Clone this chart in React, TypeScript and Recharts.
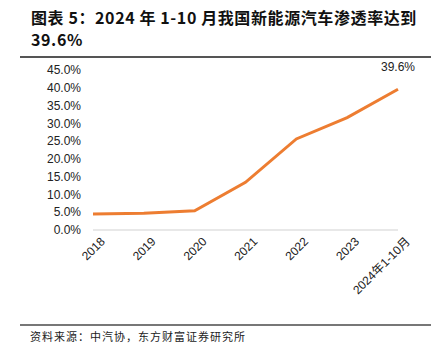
import { LineChart, Line, XAxis, YAxis, CartesianGrid, LabelList } from 'recharts';

const categories = ['2018', '2019', '2020', '2021', '2022', '2023', '2024年1-10月'];
const penetration = [4.5, 4.7, 5.4, 13.4, 25.6, 31.6, 39.6];
const yTicks = [0, 5, 10, 15, 20, 25, 30, 35, 40, 45];

const data = categories.map((name, i) => ({ name, value: penetration[i] }));

const XTick = ({ x, y, payload }: any) => (
  <g transform={`translate(${x},${y})`}>
    <text
      x={0}
      y={0}
      dx={6}
      dy={12}
      textAnchor="end"
      transform="rotate(-45)"
      fontSize={12}
      fill="#222"
      fontFamily="Arial, 'Liberation Sans', 'Noto Sans CJK SC', sans-serif"
    >
      {payload.value}
    </text>
  </g>
);

const LastLabel = ({ x, y, index, value }: any) => {
  if (index !== penetration.length - 1) return null;
  return (
    <text x={x} y={y - 18} textAnchor="middle" fontSize={12} fill="#222" fontFamily="Arial, 'Liberation Sans', sans-serif">
      {value.toFixed(1)}%
    </text>
  );
};

export default function App() {
  return (
    <div style={{ position: 'absolute', left: 0, top: 0, width: 445, height: 358, background: '#fff' }}>
      <div
        style={{
          position: 'absolute',
          left: 31,
          top: 6,
          width: 410,
          fontSize: 16,
          fontWeight: 'bold',
          lineHeight: '22px',
          letterSpacing: '0.6px',
          color: '#111',
          fontFamily: "'Noto Sans CJK SC', sans-serif",
        }}
      >
        图表 5：2024 年 1-10 月我国新能源汽车渗透率达到
        <br />
        39.6%
      </div>
      <div style={{ position: 'absolute', left: 20, top: 56, width: 411, height: 2, background: '#555' }} />
      <div style={{ position: 'absolute', left: 0, top: 60 }}>
        <LineChart width={445} height={260} data={data} margin={{ top: 10, right: 47, bottom: 0, left: 0 }}>
          <CartesianGrid horizontal={false} vertical={false} />
          <XAxis
            dataKey="name"
            interval={0}
            height={90}
            axisLine={{ stroke: '#e0e0e0', strokeWidth: 1.5 }}
            tickLine={false}
            tick={<XTick />}
          />
          <YAxis
            width={93}
            domain={[0, 45]}
            ticks={yTicks}
            interval={0}
            axisLine={false}
            tickLine={false}
            tickMargin={6}
            tick={{ fontSize: 12, fill: '#222', fontFamily: "Arial, 'Liberation Sans', sans-serif" }}
            tickFormatter={(v: number) => `${v.toFixed(1)}%`}
          />
          <Line
            type="linear"
            dataKey="value"
            stroke="#ED7D31"
            strokeWidth={3}
            dot={false}
            isAnimationActive={false}
          >
            <LabelList dataKey="value" content={<LastLabel />} />
          </Line>
        </LineChart>
      </div>
      <div style={{ position: 'absolute', left: 20, top: 324, width: 411, height: 2, background: '#777' }} />
      <div
        style={{
          position: 'absolute',
          left: 30,
          top: 328,
          fontSize: 11,
          letterSpacing: '1px',
          color: '#222',
          fontFamily: "'Noto Sans CJK SC', sans-serif",
        }}
      >
        资料来源：中汽协，东方财富证券研究所
      </div>
    </div>
  );
}
